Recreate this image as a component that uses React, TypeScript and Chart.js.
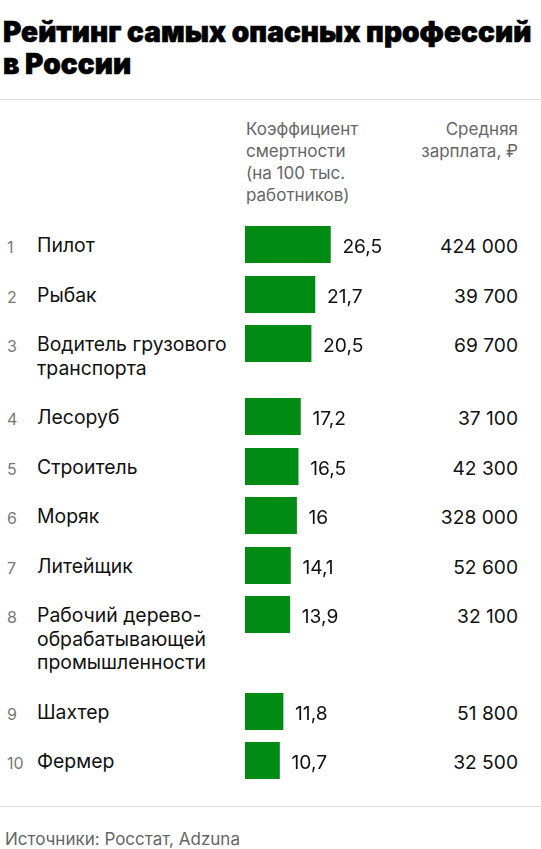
import React, { useEffect, useRef } from "react";
import { Chart, registerables } from "chart.js";

Chart.register(...registerables);

// ---------- data ----------
const titleLines = ["Рейтинг самых опасных профессий", "в России"];
const mortalityHeader = ["Коэффициент", "смертности", "(на 100 тыс.", "работников)"];
const salaryHeader = ["Средняя", "зарплата, ₽"];
const ranks = [1, 2, 3, 4, 5, 6, 7, 8, 9, 10];
const professions = [
  ["Пилот"],
  ["Рыбак"],
  ["Водитель грузового", "транспорта"],
  ["Лесоруб"],
  ["Строитель"],
  ["Моряк"],
  ["Литейщик"],
  ["Рабочий дерево-", "обрабатывающей", "промышленности"],
  ["Шахтер"],
  ["Фермер"],
];
const mortalityRates = [26.5, 21.7, 20.5, 17.2, 16.5, 16, 14.1, 13.9, 11.8, 10.7];
const salaries = [424000, 39700, 69700, 37100, 42300, 328000, 52600, 32100, 51800, 32500];
const sourceNote = "Источники: Росстат, Adzuna";

// ---------- style ----------
const FONT = "Inter, 'Noto Sans', Roboto, sans-serif";
const GREEN = "#008c14";
const X_MAX = 57.4;
const CANVAS_W = 185;
const BAR_H = 37;
const ROW_BASE = 49.5;
const LINE_H = 23.5;
const FIRST_ROW_TOP = 226;

const fmtRate = (v: number) => String(v).replace(".", ",");
const fmtSalary = (v: number) => String(v).replace(/\B(?=(\d{3})+(?!\d))/g, " ");

const valueLabelPlugin = {
  id: "valueLabel",
  afterDatasetsDraw(chart: any) {
    const ctx = chart.ctx;
    const meta = chart.getDatasetMeta(0);
    const ds = chart.data.datasets[0];
    ctx.save();
    ctx.font = `400 19.2px ${FONT}`;
    ctx.fillStyle = "#111";
    ctx.textAlign = "left";
    ctx.textBaseline = "alphabetic";
    meta.data.forEach((bar: any, i: number) => {
      ctx.fillText(fmtRate(ds.data[i] as number), bar.x + 12, bar.y + 8.8);
    });
    ctx.restore();
  },
};

function BarCell({ value }: { value: number }) {
  const ref = useRef<HTMLCanvasElement>(null);
  useEffect(() => {
    if (!ref.current) return;
    const chart = new Chart(ref.current, {
      type: "bar",
      data: {
        labels: [""],
        datasets: [
          {
            data: [value],
            backgroundColor: GREEN,
            borderWidth: 0,
            barPercentage: 1,
            categoryPercentage: 1,
          },
        ],
      },
      options: {
        indexAxis: "y",
        responsive: false,
        animation: false,
        devicePixelRatio: 1,
        layout: { padding: 0 },
        plugins: { legend: { display: false }, tooltip: { enabled: false } },
        scales: {
          x: { display: false, min: 0, max: X_MAX },
          y: { display: false },
        },
      },
      plugins: [valueLabelPlugin],
    } as any);
    return () => chart.destroy();
  }, [value]);
  return (
    <canvas
      ref={ref}
      width={CANVAS_W}
      height={BAR_H}
      style={{ position: "absolute", left: 245, top: 0, width: CANVAS_W, height: BAR_H }}
    />
  );
}

export default function App() {
  let acc = FIRST_ROW_TOP;
  const rowTops = professions.map((lines) => {
    const t = Math.round(acc);
    acc += ROW_BASE + (lines.length - 1) * LINE_H;
    return t;
  });

  return (
    <div
      style={{
        position: "absolute",
        left: 0,
        top: 0,
        width: 541,
        height: 849,
        background: "#fff",
        fontFamily: FONT,
        color: "#111",
        overflow: "hidden",
      }}
    >
      {/* title */}
      <div
        style={{
          position: "absolute",
          left: 3,
          top: 16,
          fontSize: 28,
          lineHeight: "32px",
          fontWeight: 900,
          color: "#000",
          whiteSpace: "nowrap",
          letterSpacing: 0.05,
          WebkitTextStroke: "0.6px #000",
        }}
      >
        {titleLines.map((l, i) => (
          <div key={i}>{l}</div>
        ))}
      </div>
      <div style={{ position: "absolute", left: 0, top: 99, width: 541, height: 1, background: "#dedede" }} />

      {/* headers */}
      <div
        style={{
          position: "absolute",
          left: 246,
          top: 117.8,
          fontSize: 17,
          lineHeight: "22px",
          color: "#666",
          whiteSpace: "nowrap",
        }}
      >
        {mortalityHeader.map((l, i) => (
          <div key={i}>{l}</div>
        ))}
      </div>
      <div
        style={{
          position: "absolute",
          right: 23,
          top: 117.8,
          fontSize: 17,
          lineHeight: "22px",
          color: "#666",
          textAlign: "right",
          whiteSpace: "nowrap",
        }}
      >
        {salaryHeader.map((l, i) => (
          <div key={i}>{l}</div>
        ))}
      </div>

      {/* rows */}
      {professions.map((lines, i) => (
        <div key={i} style={{ position: "absolute", left: 0, top: rowTops[i], width: 541, height: BAR_H }}>
          <div
            style={{
              position: "absolute",
              left: 7,
              top: 9.7,
              fontSize: 16,
              lineHeight: `${LINE_H}px`,
              color: "#777",
            }}
          >
            {ranks[i]}
          </div>
          <div
            style={{
              position: "absolute",
              left: 37,
              top: 8.3,
              fontSize: 19.4,
              lineHeight: `${LINE_H}px`,
              whiteSpace: "nowrap",
            }}
          >
            {lines.map((l, j) => (
              <div key={j}>{l}</div>
            ))}
          </div>
          <BarCell value={mortalityRates[i]} />
          <div
            style={{
              position: "absolute",
              right: 23,
              top: 8.5,
              fontSize: 19.2,
              lineHeight: `${LINE_H}px`,
              textAlign: "right",
              whiteSpace: "nowrap",
            }}
          >
            {fmtSalary(salaries[i])}
          </div>
        </div>
      ))}

      {/* footer */}
      <div style={{ position: "absolute", left: 0, top: 806, width: 541, height: 1, background: "#dedede" }} />
      <div
        style={{
          position: "absolute",
          left: 5,
          top: 829,
          fontSize: 17,
          lineHeight: "20px",
          color: "#666",
          whiteSpace: "nowrap",
        }}
      >
        {sourceNote}
      </div>
    </div>
  );
}
